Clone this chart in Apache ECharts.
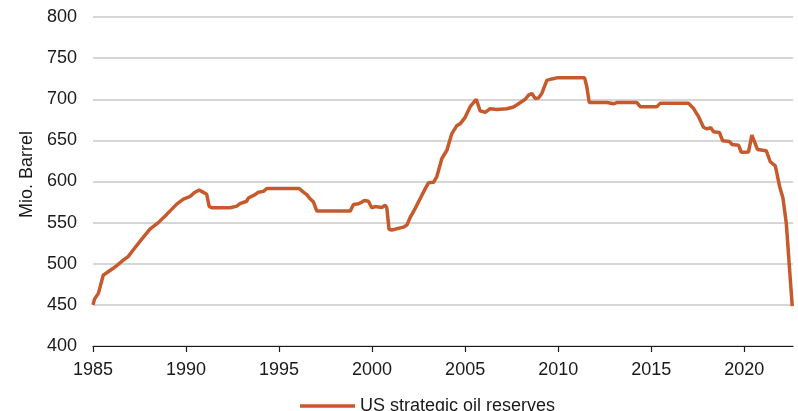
<!DOCTYPE html>
<html>
<head>
<meta charset="utf-8">
<script src="https://cdn.jsdelivr.net/npm/echarts@6/dist/echarts.min.js"></script>
<style>
html,body{margin:0;padding:0;background:#fff;}
#chart{width:798px;height:411px;}
</style>
</head>
<body>
<div id="chart"></div>
<script>
var years = [1985.00,1985.08,1985.29,1985.55,1985.74,1986.18,1986.63,1986.90,1987.17,1987.62,1988.06,1988.51,1988.96,1989.50,1989.86,1990.20,1990.48,1990.70,1990.84,1991.11,1991.24,1991.38,1992.37,1992.73,1992.90,1993.26,1993.35,1993.71,1993.89,1994.16,1994.34,1996.08,1996.31,1996.49,1996.67,1996.85,1997.03,1998.82,1999.00,1999.27,1999.45,1999.59,1999.80,1999.98,2000.16,2000.52,2000.70,2000.79,2000.91,2001.06,2001.68,2001.87,2002.04,2002.31,2002.58,2002.85,2003.03,2003.30,2003.48,2003.75,2004.02,2004.28,2004.55,2004.73,2005.00,2005.27,2005.60,2005.80,2006.08,2006.34,2006.70,2007.24,2007.60,2007.87,2008.23,2008.41,2008.59,2008.76,2008.94,2009.12,2009.39,2009.66,2009.93,2011.42,2011.54,2011.67,2012.62,2012.70,2012.97,2013.15,2014.23,2014.41,2015.31,2015.48,2017.00,2017.27,2017.54,2017.81,2017.99,2018.20,2018.35,2018.67,2018.84,2019.21,2019.34,2019.70,2019.84,2020.23,2020.41,2020.71,2021.18,2021.40,2021.67,2021.90,2022.08,2022.26,2022.44,2022.58];
var reserves = [450,457,464,486,489,496,504.5,509,517,530,542,550,560,572.5,578.5,581.5,587,589.5,588,584.5,570,568,568,570,573,576,580,584,587,588,591.5,591.5,587,584,579,575,564,564,572,573,575,577,576,568,569.5,568.5,571,568,542,541,544.5,547,556,567,579,591,598.5,599,606,628,638,658,668,670,678,691,700,686,684,688.5,687.5,688.5,690.5,694.5,700,705,707,701,701.5,707,723,724.7,726,726,715,696,696,694.5,694.5,696,696,691,691,695,695,689,679,666,664,665.5,660.5,659.5,649.5,648.5,645,644,635.5,636,656.5,639,637.5,624,619,594,580,549,492,448.5];
var xTicks = [1985,1990,1995,2000,2005,2010,2015,2020];
var seriesName = 'US strategic oil reserves';
var yAxisName = 'Mio. Barrel';

var data = years.map(function(y,i){return [y, reserves[i]];});
var chart = echarts.init(document.getElementById('chart'));
var font = 'Liberation Sans, Arial, sans-serif';
chart.setOption({
  animation: false,
  backgroundColor: '#fff',
  grid: {left: 93, right: 5, top: 17, bottom: 65, containLabel: false},
  legend: {
    data: [{name: seriesName, icon: 'rect'}],
    left: 295, top: 392,
    itemWidth: 55, itemHeight: 3.5,
    textStyle: {fontFamily: font, fontSize: 18, color: '#1a1a1a'}
  },
  xAxis: {
    type: 'value', min: 1985, max: 2022.62, interval: 5,
    axisLine: {show: true, lineStyle: {color: '#1a1a1a', width: 1.2}},
    axisTick: {show: true, length: 6, lineStyle: {color: '#1a1a1a', width: 1.2}, customValues: xTicks},
    axisLabel: {fontFamily: font, fontSize: 18, color: '#1a1a1a', margin: 15, customValues: xTicks,
      formatter: function(v){return String(v);}},
    splitLine: {show: false}
  },
  yAxis: {
    type: 'value', min: 400, max: 800, interval: 50,
    name: yAxisName, nameLocation: 'middle', nameGap: 48,
    nameTextStyle: {fontFamily: font, fontSize: 18, color: '#1a1a1a', padding: [0, 0, 0, 14]},
    axisLine: {show: false},
    axisTick: {show: false},
    axisLabel: {fontFamily: font, fontSize: 18, color: '#1a1a1a', margin: 16},
    splitLine: {show: true, lineStyle: {color: '#c8c8c8', width: 1.5}}
  },
  series: [{
    name: seriesName, type: 'line', data: data,
    showSymbol: false, symbol: 'none',
    lineStyle: {color: '#c65a2c', width: 3.5},
    itemStyle: {color: '#c65a2c'}
  }]
});
</script>
</body>
</html>
